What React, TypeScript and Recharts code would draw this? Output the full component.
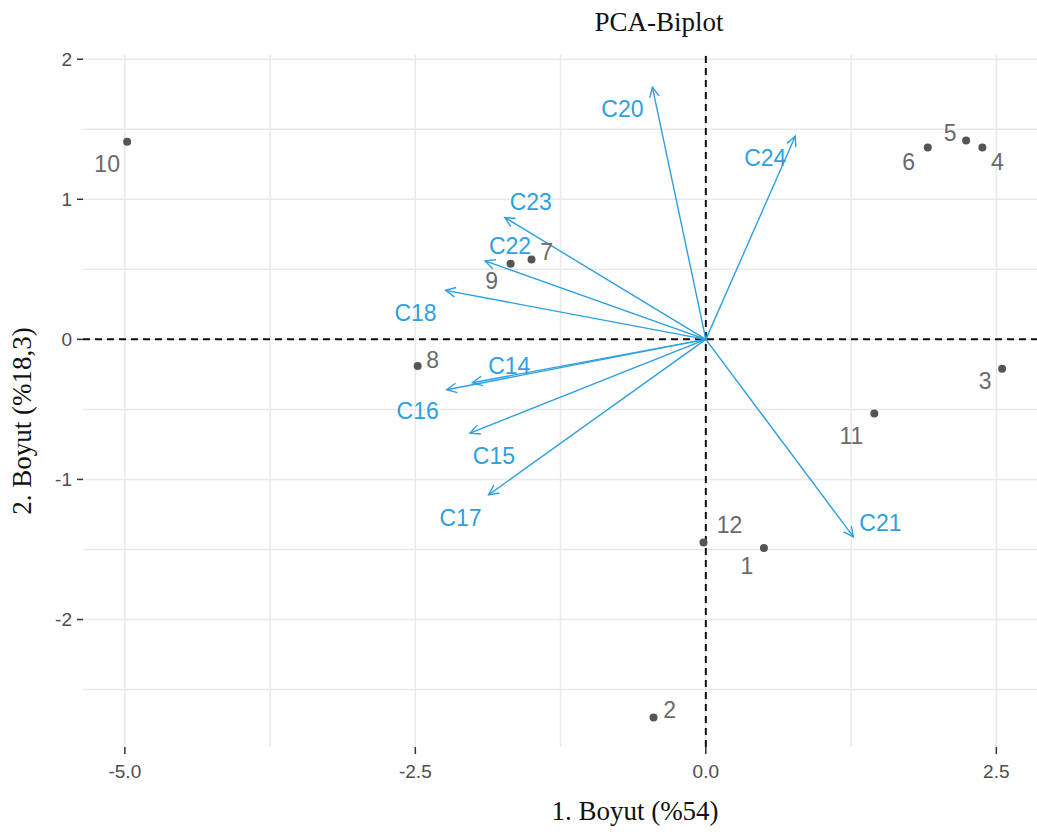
import {
  ScatterChart,
  Scatter,
  XAxis,
  YAxis,
  ReferenceLine,
} from 'recharts'

// observations (individuals)
const obsLabels = ['1', '2', '3', '4', '5', '6', '7', '8', '9', '10', '11', '12']
const obsX = [0.5, -0.45, 2.55, 2.38, 2.24, 1.91, -1.5, -2.48, -1.68, -4.98, 1.45, -0.02]
const obsY = [-1.49, -2.7, -0.21, 1.37, 1.42, 1.37, 0.57, -0.19, 0.54, 1.41, -0.53, -1.45]

// variables (loadings, arrow tips)
const varNames = ['C14', 'C15', 'C16', 'C17', 'C18', 'C20', 'C21', 'C22', 'C23', 'C24']
const varX = [-2.01, -2.03, -2.23, -1.87, -2.24, -0.46, 1.27, -1.9, -1.73, 0.77]
const varY = [-0.31, -0.67, -0.36, -1.11, 0.35, 1.8, -1.41, 0.56, 0.87, 1.45]

const xTicks = [-5, -2.5, 0, 2.5]
const yTicks = [-2, -1, 0, 1, 2]
const xMinor = [-3.75, -1.25, 1.25]
const yMinor = [-2.5, -1.5, -0.5, 0.5, 1.5]

// label offsets in px (text centre relative to mark)
const obsOffset: Record<string, [number, number]> = {
  '1': [-17, 18], '2': [16, -8], '3': [-17, 12], '4': [15, 14],
  '5': [-16, -8], '6': [-19, 14], '7': [15, -8], '8': [15, -6],
  '9': [-19, 17], '10': [-20, 22], '11': [-23, 22], '12': [26, -18],
}
const varOffset: Record<string, [number, number]> = {
  C14: [37, -17], C15: [24, 23], C16: [-29, 21], C17: [-28, 23], C18: [-30, 22],
  C20: [-30, 22], C21: [27, -14], C22: [25, -15], C23: [26, -16], C24: [-30, 21],
}

const obsData = obsLabels.map((label, i) => ({ label, x: obsX[i], y: obsY[i] }))

const BLUE = '#2E9FDF'
const GRID = '#e9e9e9'
const SANS = '"Liberation Sans", Arial, sans-serif'
const SERIF = '"Liberation Serif", "Times New Roman", serif'

function arrowShape(name: string) {
  return (p: any) => {
    const { x1, y1, x2, y2 } = p
    const a = Math.atan2(y2 - y1, x2 - x1)
    const len = 11
    const spread = Math.PI / 7
    const ax = x2 - len * Math.cos(a - spread)
    const ay = y2 - len * Math.sin(a - spread)
    const bx = x2 - len * Math.cos(a + spread)
    const by = y2 - len * Math.sin(a + spread)
    const [ox, oy] = varOffset[name]
    return (
      <g>
        <line x1={x1} y1={y1} x2={x2} y2={y2} stroke={BLUE} strokeWidth={1.4} />
        <polyline
          points={`${ax},${ay} ${x2},${y2} ${bx},${by}`}
          fill="none"
          stroke={BLUE}
          strokeWidth={1.4}
        />
        <text
          x={x2 + ox}
          y={y2 + oy}
          dy="0.36em"
          textAnchor="middle"
          fill={BLUE}
          fontSize={23}
          fontFamily={SANS}
        >
          {name}
        </text>
      </g>
    )
  }
}

function ObsPoint(p: any) {
  const { cx, cy, payload } = p
  const [ox, oy] = obsOffset[payload.label]
  return (
    <g>
      <circle cx={cx} cy={cy} r={4} fill="#555555" />
      <text
        x={cx + ox}
        y={cy + oy}
        dy="0.36em"
        textAnchor="middle"
        fill="#6a6a6a"
        fontSize={23}
        fontFamily={SANS}
      >
        {payload.label}
      </text>
    </g>
  )
}

const tickStyle = { fontSize: 19, fill: '#4d4d4d', fontFamily: SANS }

export default function App() {
  return (
    <div style={{ position: 'absolute', left: 0, top: 0, width: 1037, height: 834, background: '#fff' }}>
      <ScatterChart
        width={1037}
        height={834}
        margin={{ top: 55, right: 0, bottom: 0, left: 0 }}
      >
        {[...xTicks, ...xMinor].map((v) => (
          <ReferenceLine key={'xg' + v} x={v} stroke={GRID} strokeWidth={1.5} />
        ))}
        {[...yTicks, ...yMinor].map((v) => (
          <ReferenceLine key={'yg' + v} y={v} stroke={GRID} strokeWidth={1.5} />
        ))}
        <XAxis
          type="number"
          dataKey="x"
          domain={[-5.36, 2.85]}
          allowDataOverflow
          ticks={xTicks}
          tickFormatter={(v: number) => v.toFixed(1)}
          axisLine={false}
          tickSize={7}
          tickMargin={11}
          tickLine={{ stroke: '#333', strokeWidth: 1.5 }}
          tick={tickStyle}
          height={87}
          interval={0}
        />
        <YAxis
          type="number"
          dataKey="y"
          domain={[-2.91, 2.03]}
          allowDataOverflow
          ticks={yTicks}
          axisLine={false}
          tickSize={6}
          tickMargin={5}
          tickLine={{ stroke: '#333', strokeWidth: 1.5 }}
          tick={tickStyle}
          width={83}
          interval={0}
        />
        <ReferenceLine x={0} stroke="#111" strokeWidth={2} strokeDasharray="7 5" />
        <ReferenceLine y={0} stroke="#111" strokeWidth={2} strokeDasharray="7 5" />
        <Scatter data={obsData} shape={ObsPoint} isAnimationActive={false} />
        {varNames.map((name, i) => (
          <ReferenceLine
            key={name}
            segment={[
              { x: 0, y: 0 },
              { x: varX[i], y: varY[i] },
            ]}
            shape={arrowShape(name)}
          />
        ))}
      </ScatterChart>
      <div
        style={{
          position: 'absolute', left: 0, width: 1318, top: 6, textAlign: 'center',
          fontFamily: SERIF, fontSize: 27, color: '#111', lineHeight: '32px',
        }}
      >
        PCA-Biplot
      </div>
      <div
        style={{
          position: 'absolute', left: 0, width: 1270, top: 795, textAlign: 'center',
          fontFamily: SERIF, fontSize: 27, color: '#111', lineHeight: '32px',
        }}
      >
        1. Boyut (%54)
      </div>
      <div
        style={{
          position: 'absolute', left: 22, top: 421, width: 0, height: 0,
        }}
      >
        <div
          style={{
            position: 'absolute', left: -150, top: -16, width: 300, textAlign: 'center',
            transform: 'rotate(-90deg)', fontFamily: SERIF, fontSize: 27, color: '#111',
            lineHeight: '32px', whiteSpace: 'nowrap',
          }}
        >
          2. Boyut (%18,3)
        </div>
      </div>
    </div>
  )
}
